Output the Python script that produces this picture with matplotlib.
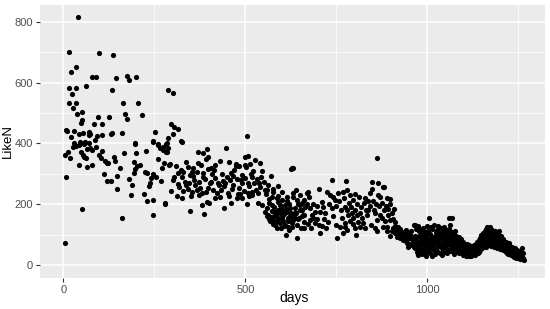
import numpy as np
import matplotlib
matplotlib.use("Agg")
import matplotlib.pyplot as plt

# ---- data (days, LikeN) ----
days_early = [41, 16, 98, 136, 34, 21, 80, 91, 146, 174, 181, 199, 15, 36, 62, 134, 24, 288,
              15, 36, 165, 204, 27, 37, 50, 170, 174, 217, 48, 52, 96, 126, 84, 107, 8, 29,
              42, 53, 71, 71, 73, 92, 105, 131, 135, 160, 251, 288, 22, 197, 246, 261, 282,
              30, 46, 58, 71, 5, 14, 28, 35, 44, 57, 60, 48, 53, 57, 62, 66, 73, 78, 90,
              44, 64, 78, 99, 105, 103, 115, 119, 124, 7, 50, 5, 119, 130, 142, 148, 156,
              148, 160, 167, 197, 199, 193, 202, 197, 193, 181, 188, 227, 224, 231, 247,
              255, 238, 234, 223, 229, 246, 246, 279, 267, 247, 261, 266, 275, 282, 273,
              277, 291, 300, 296, 305, 314, 300, 323, 287, 9, 18, 86, 112, 140, 185, 210,
              240, 260, 270]
likes_early = [814, 700, 696, 691, 650, 634, 617, 619, 614, 622, 609, 619, 582, 582, 587, 576,
               561, 576, 534, 534, 534, 534, 516, 497, 502, 497, 479, 493, 467, 477, 485, 488,
               463, 463, 445, 441, 432, 434, 438, 428, 432, 424, 428, 432, 434, 435, 438, 417,
               422, 401, 408, 397, 399, 400, 403, 398, 402, 362, 373, 387, 391, 395, 400, 406,
               373, 362, 356, 351, 381, 384, 378, 389, 329, 321, 329, 362, 376, 351, 343, 336,
               336, 290, 184, 73, 276, 276, 343, 293, 318, 250, 156, 369, 398, 369, 338, 326,
               315, 304, 282, 263, 376, 305, 301, 299, 288, 269, 260, 234, 211, 213, 164, 201,
               276, 406, 395, 384, 378, 373, 389, 336, 329, 565, 463, 455, 447, 430, 408, 384,
               440, 352, 410, 300, 355, 230, 330, 285, 350, 320]

days_mid = [505, 284, 325, 284, 279, 369, 385, 394, 397, 446, 430, 293, 309, 336, 343, 371,
            378, 397, 474, 474, 499, 508, 513, 498, 625, 316, 330, 353, 325, 357, 385, 415,
            409, 435, 461, 467, 490, 522, 547, 571, 519, 302, 314, 334, 345, 360, 373, 389,
            406, 424, 444, 458, 476, 492, 506, 525, 538, 296, 311, 327, 342, 353, 366, 380,
            397, 412, 433, 453, 462, 479, 492, 508, 519, 534, 554, 577, 591, 348, 387, 394,
            440, 461, 476, 504, 519, 380, 399, 417, 536, 545, 559, 573, 586, 600, 614, 632,
            632, 305, 318, 322, 338, 347, 351, 362, 368, 375, 383, 391, 402, 405, 418, 422,
            427, 438, 442, 450, 455, 466, 470, 483, 487, 495, 500, 511, 515, 528, 531, 540,
            543, 550, 557, 562, 566, 329, 356, 392, 418, 455, 482, 503, 526, 540, 372, 430,
            485, 510, 560]
likes_mid = [424, 400, 406, 373, 203, 373, 369, 381, 356, 385, 343, 332, 326, 340, 321, 336,
             329, 315, 326, 332, 356, 358, 332, 329, 315, 301, 307, 307, 288, 293, 304, 312,
             299, 299, 304, 293, 296, 310, 310, 293, 288, 280, 266, 274, 271, 280, 274, 282,
             274, 269, 271, 280, 282, 269, 271, 271, 269, 244, 227, 219, 249, 241, 247, 236,
             252, 247, 247, 236, 249, 234, 219, 238, 241, 236, 247, 249, 258, 178, 168, 208,
             186, 203, 219, 201, 230, 197, 203, 219, 203, 197, 186, 197, 219, 214, 225, 236,
             318, 290, 255, 312, 262, 296, 228, 262, 305, 252, 288, 240, 268, 318, 285, 236,
             262, 276, 258, 290, 228, 262, 312, 252, 278, 242, 286, 258, 300, 248, 284, 256,
             290, 272, 232, 262, 218, 244, 320, 348, 330, 340, 327, 322, 344, 335, 230, 222,
             232, 226, 245]

days_hump = [554, 563, 571, 577, 582, 586, 595, 600, 604, 609, 614, 618, 623, 627, 632, 591,
             595, 582, 573, 609, 623, 637, 559, 568, 591, 604, 617, 580, 612, 566, 572, 579,
             584, 589, 594, 598, 602, 607, 611, 616, 621, 625, 630, 635, 640, 645, 650, 655,
             660, 565, 575, 588, 598, 606, 620, 628, 642, 652, 660, 645, 655, 590, 602, 615,
             575]
likes_hump = [175, 164, 157, 148, 132, 121, 139, 159, 143, 132, 175, 143, 161, 137, 161, 181,
              197, 175, 179, 197, 186, 154, 161, 143, 154, 175, 126, 161, 99, 205, 222, 190,
              168, 208, 172, 188, 150, 168, 185, 156, 200, 172, 148, 188, 170, 150, 180, 160,
              140, 150, 135, 145, 120, 128, 115, 125, 130, 120, 165, 200, 205, 228, 240, 210,
              240]

days_late = [861, 627, 737, 777, 847, 865, 882, 639, 669, 673, 703, 733, 742, 755, 769, 779,
             788, 829, 843, 847, 870, 879, 888, 898, 710, 714, 705, 696, 632, 641, 650, 655,
             659, 637, 627, 646, 664, 678, 682, 687, 691, 678, 701, 710, 643, 705, 753, 774,
             779, 783, 792, 797, 788, 774, 765, 801, 806, 815, 820, 824, 833, 838, 852, 856,
             861, 870, 875, 884, 893, 898, 907, 801, 774, 815, 888, 902, 911, 916, 925, 934,
             943, 948, 957, 966, 971, 975, 934, 952, 963, 975, 650, 662, 668, 675, 685, 692,
             698, 720, 725, 730, 738, 745, 750, 758, 762, 770, 785, 790, 795, 800, 808, 812,
             818, 826, 830, 836, 842, 850, 858, 864, 868, 876, 880, 886, 892, 897, 903, 906,
             912, 918, 922, 928, 938, 940, 945, 950, 955, 960, 968, 972, 978, 982, 985, 988,
             660, 672, 680, 715, 722, 728, 740, 748, 760, 768, 780, 795, 805, 810, 828, 845,
             855, 862, 878, 890, 896, 905, 910, 915, 920, 925, 930, 935, 940, 945, 950, 955,
             958, 962, 965, 968, 970, 973, 966]
likes_late = [353, 318, 280, 276, 274, 271, 256, 247, 238, 241, 249, 230, 225, 238, 241, 245,
              230, 219, 238, 249, 225, 256, 219, 216, 208, 192, 175, 150, 225, 214, 197, 181,
              164, 170, 154, 154, 192, 186, 164, 154, 137, 148, 132, 128, 90, 106, 90, 192,
              181, 164, 170, 154, 143, 137, 154, 181, 164, 170, 154, 137, 164, 181, 181, 170,
              148, 164, 154, 143, 164, 148, 183, 121, 126, 126, 126, 110, 104, 93, 88, 82,
              73, 60, 66, 55, 44, 33, 99, 88, 132, 128, 230, 215, 200, 225, 200, 175,
              195, 170, 240, 200, 188, 215, 195, 210, 180, 220, 205, 190, 215, 232, 200, 225,
              190, 205, 180, 210, 195, 210, 200, 230, 195, 205, 180, 195, 185, 200, 170, 150,
              140, 125, 115, 105, 95, 115, 85, 105, 95, 78, 90, 70, 60, 100, 50, 80,
              120, 135, 120, 150, 120, 140, 160, 130, 125, 105, 115, 135, 100, 140, 120, 130,
              120, 110, 125, 110, 95, 120, 128, 112, 98, 118, 92, 108, 80, 100, 70, 112,
              86, 60, 96, 118, 76, 50, 130]

# daily values from day 976 to day 1264
days_tail = list(range(976, 1265))
likes_tail = [95, 112, 60, 48, 118, 80, 42, 70, 105, 88, 35, 64, 122, 96, 50, 75, 110, 40, 58, 84,
              100, 30, 68, 128, 90,
              62, 45, 112, 154, 78, 38, 86, 102, 70, 125, 55, 28, 92, 118, 66, 80, 132, 48, 60, 95,
              36, 74, 108, 82, 52, 115, 99, 44, 68, 128,
              88, 62, 76, 104, 40, 90, 120, 58, 34, 70, 96, 110, 84, 50, 72, 124, 64, 42, 100, 115,
              88, 56, 38, 80, 106, 92, 68, 154, 118, 48,
              74, 98, 132, 62, 45, 84, 108, 154, 70, 55, 92, 100, 78, 36, 64, 86, 112, 50, 95, 72,
              42, 88, 60, 48, 80, 92, 40, 66, 76, 56,
              85, 44, 62, 70, 38, 50, 58, 32, 74, 44, 36, 54, 66, 46, 30, 52, 60, 40, 34, 70,
              48, 42, 28, 56, 64, 38, 50, 34, 46, 54, 30, 40, 58, 62, 36, 48, 42, 66, 52, 34,
              56, 44, 70, 38, 60, 48, 76, 40, 52, 64, 82, 44, 58, 88, 50, 70, 62, 98, 74, 56,
              84, 68, 92, 104, 72, 64, 112, 86, 76, 96, 118, 60, 84, 124, 70, 90, 102, 80, 66, 114,
              94, 124, 74, 108, 86, 62, 98, 116, 78, 92, 70, 104, 58, 84, 110, 96, 76, 66, 92, 100,
              56, 80, 90, 106, 72, 113, 84, 64, 92, 54, 76, 86, 96, 62, 70, 80, 50, 68, 84, 58,
              76, 48, 72, 56, 44, 77, 66, 52, 40, 70, 60, 36, 48, 64, 71, 42, 50, 58, 32, 46,
              54, 38, 60, 30, 44, 52, 27, 40, 48, 36, 56, 24, 30, 44, 34, 40, 50, 22, 26, 38,
              42, 33, 28, 20, 46, 35, 26, 40, 22, 55, 18, 38, 24, 16]

days = np.array(days_early + days_mid + days_hump + days_late + days_tail)
likes = np.array(likes_early + likes_mid + likes_hump + likes_late + likes_tail)

# ---- figure ----
fig = plt.figure(figsize=(5.5, 3.09), dpi=100)
ax = fig.add_axes([40 / 550, 1 - 278 / 309, 505 / 550, 273 / 309])
ax.set_facecolor("#EBEBEB")

ax.scatter(days, likes, s=14, color="black", linewidths=0, zorder=3)

ax.set_xlim(-64, 1323)
ax.set_ylim(-43, 855)
ax.set_xticks([0, 500, 1000])
ax.set_yticks([0, 200, 400, 600, 800])
ax.set_xticks([250, 750, 1250], minor=True)
ax.set_yticks([100, 300, 500, 700], minor=True)

ax.grid(which="major", color="white", linewidth=1.1, zorder=0)
ax.grid(which="minor", color="white", linewidth=0.55, zorder=0)
ax.set_axisbelow(True)
for s in ax.spines.values():
    s.set_visible(False)

ax.tick_params(which="major", length=3, width=0.8, color="#333333",
               labelsize=8, labelcolor="#4D4D4D", pad=2)
ax.tick_params(which="minor", length=0)
for lbl in ax.get_xticklabels() + ax.get_yticklabels():
    lbl.set_family("Liberation Sans")

ax.set_xlabel("days", fontsize=10, family="Liberation Sans", va="center")
ax.set_ylabel("LikeN", fontsize=9.5, family="Liberation Sans", va="center")
ax.xaxis.set_label_coords(0.503, -0.073)
ax.yaxis.set_label_coords(-0.064, 0.5)

fig.savefig("out.png", dpi=100)
